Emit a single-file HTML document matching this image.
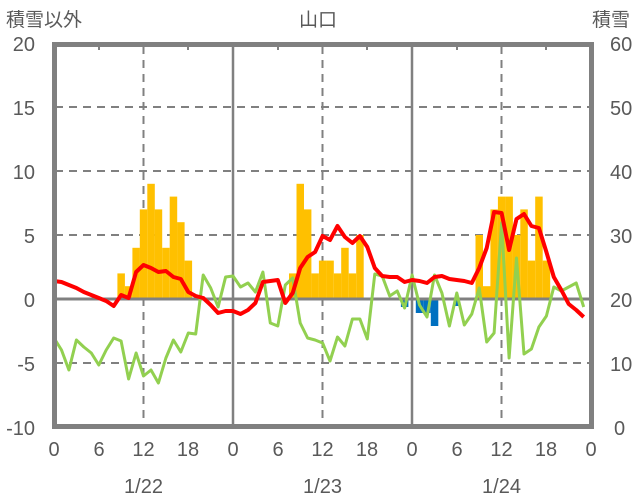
<!DOCTYPE html>
<html><head><meta charset="utf-8"><style>
html,body{margin:0;padding:0;background:#fff;}
svg{display:block;}
text{font-family:"Liberation Sans","Noto Sans CJK JP",sans-serif;fill:#595959;}
</style></head><body>
<svg width="636" height="501" viewBox="0 0 636 501" xmlns="http://www.w3.org/2000/svg">
<text x="6" y="26" font-size="19">積雪以外</text>
<text x="318" y="26" font-size="19" text-anchor="middle">山口</text>
<text x="630" y="26" font-size="19" text-anchor="end">積雪</text>
<g font-size="20" text-anchor="end">
<text x="35" y="51">20</text><text x="35" y="115">15</text><text x="35" y="179">10</text><text x="35" y="243">5</text><text x="35" y="307">0</text><text x="35" y="371">-5</text><text x="35" y="435">-10</text>
</g>
<g font-size="20" text-anchor="start">
<text x="610" y="51">60</text><text x="610" y="115">50</text><text x="610" y="179">40</text><text x="610" y="243">30</text><text x="610" y="307">20</text><text x="610" y="371">10</text><text x="614" y="435">0</text>
</g>
<g font-size="20" text-anchor="middle">
<text x="54" y="456">0</text><text x="99" y="456">6</text><text x="143.5" y="456">12</text><text x="188" y="456">18</text>
<text x="233" y="456">0</text><text x="278" y="456">6</text><text x="322.5" y="456">12</text><text x="367" y="456">18</text>
<text x="412" y="456">0</text><text x="457" y="456">6</text><text x="501.5" y="456">12</text><text x="546" y="456">18</text><text x="591" y="456">0</text>
<text x="143.5" y="493">1/22</text><text x="322.5" y="493">1/23</text><text x="501.5" y="493">1/24</text>
</g>
<g stroke="#808080" stroke-width="2" stroke-dasharray="8,6" fill="none">
<line x1="55" y1="107" x2="590" y2="107"/><line x1="55" y1="171" x2="590" y2="171"/><line x1="55" y1="235" x2="590" y2="235"/><line x1="55" y1="363" x2="590" y2="363"/>
<line x1="143.5" y1="46" x2="143.5" y2="427"/><line x1="322.5" y1="46" x2="322.5" y2="427"/><line x1="501.5" y1="46" x2="501.5" y2="427"/>
</g>
<g stroke="#808080" stroke-width="2" stroke-dasharray="4,6">
<line x1="99" y1="46" x2="99" y2="50"/><line x1="188" y1="46" x2="188" y2="50"/><line x1="278" y1="46" x2="278" y2="50"/><line x1="367" y1="46" x2="367" y2="50"/><line x1="457" y1="46" x2="457" y2="50"/><line x1="546" y1="46" x2="546" y2="50"/>
</g>
<g stroke="#808080" stroke-width="2.5">
<line x1="233" y1="46" x2="233" y2="427"/><line x1="412" y1="46" x2="412" y2="427"/>
</g>
<g fill="#ffc000">
<rect x="117.4" y="273.4" width="7.5" height="25.6"/><rect x="124.9" y="286.2" width="7.5" height="12.8"/><rect x="132.4" y="247.8" width="7.5" height="51.2"/><rect x="139.8" y="209.4" width="7.5" height="89.6"/><rect x="147.3" y="183.8" width="7.5" height="115.2"/><rect x="154.7" y="209.4" width="7.5" height="89.6"/><rect x="162.2" y="247.8" width="7.5" height="51.2"/><rect x="169.7" y="196.6" width="7.5" height="102.4"/><rect x="177.1" y="222.2" width="7.5" height="76.8"/><rect x="184.6" y="260.6" width="7.5" height="38.4"/>
<rect x="289" y="273.4" width="7.5" height="25.6"/><rect x="296.5" y="183.8" width="7.5" height="115.2"/><rect x="303.9" y="209.4" width="7.5" height="89.6"/><rect x="311.4" y="273.4" width="7.5" height="25.6"/><rect x="318.9" y="260.6" width="7.5" height="38.4"/><rect x="326.3" y="260.6" width="7.5" height="38.4"/><rect x="333.8" y="273.4" width="7.5" height="25.6"/><rect x="341.2" y="247.8" width="7.5" height="51.2"/><rect x="348.7" y="273.4" width="7.5" height="25.6"/><rect x="356.2" y="235" width="7.5" height="64"/>
<rect x="475.5" y="235" width="7.5" height="64"/><rect x="483" y="286.2" width="7.5" height="12.8"/><rect x="490.4" y="209.4" width="7.5" height="89.6"/><rect x="497.9" y="196.6" width="7.5" height="102.4"/><rect x="505.4" y="196.6" width="7.5" height="102.4"/><rect x="512.8" y="235" width="7.5" height="64"/><rect x="520.3" y="209.4" width="7.5" height="89.6"/><rect x="527.7" y="260.6" width="7.5" height="38.4"/><rect x="535.2" y="196.6" width="7.5" height="102.4"/><rect x="542.7" y="260.6" width="7.5" height="38.4"/>
</g>
<g fill="#0070c0">
<rect x="400.9" y="299" width="7.5" height="8"/><rect x="415.8" y="299" width="7.5" height="14"/><rect x="423.3" y="299" width="7.5" height="14"/><rect x="430.8" y="299" width="7.5" height="27"/><rect x="454" y="299" width="5" height="7"/>
</g>
<line x1="55" y1="299" x2="590" y2="299" stroke="#808080" stroke-width="3"/>
<line x1="55" y1="426" x2="590" y2="426" stroke="#808080" stroke-width="3"/>
<line x1="56" y1="426" x2="589" y2="426" stroke="#7030a0" stroke-width="2.5"/>
<polyline fill="none" stroke="#92d050" stroke-width="3" stroke-linejoin="round" points="54,338 61.5,350 68.9,370 76.4,340 83.8,347 91.3,353 98.8,365 106.2,350 113.7,338 121.1,341 128.6,379 136.1,353 143.5,376 151,370 158.4,383 165.9,358 173.4,340 180.8,352 188.3,333 195.7,334 203.2,275 210.7,288 218.1,307 225.6,277 233,276 240.5,287 248,283 255.4,292 262.9,272 270.3,323 277.8,326 285.3,285 292.7,278 300.2,323 307.6,338 315.1,340 322.6,343 330,361 337.5,337 344.9,346 352.4,319 359.9,319 367.3,339 374.8,274 382.2,276 389.7,296 397.2,291 404.6,308 412.1,275 419.5,305 427,317 434.5,275 441.9,293 449.4,326 456.8,293 464.3,325 471.8,314 479.2,288 486.7,342 494.1,333 501.6,223 509.1,358 516.5,258 524,354 531.4,349 538.9,327 546.4,316 553.8,287 561.3,291 568.7,287 576.2,283 583.7,307"/>
<polyline fill="none" stroke="#ff0000" stroke-width="4" stroke-linejoin="round" points="54,281 61.5,282 68.9,285 76.4,288 83.8,292 91.3,295 98.8,298 106.2,301 113.7,306 121.1,295 128.6,298 136.1,272 143.5,265 151,268 158.4,272 165.9,271 173.4,277 180.8,279 188.3,292 195.7,296 203.2,298 210.7,305 218.1,313 225.6,311 233,311 240.5,314 248,310 255.4,303 262.9,282 270.3,281 277.8,280 285.3,303 292.7,293 300.2,268 307.6,257 315.1,252 322.6,236 330,240 337.5,226 344.9,237 352.4,243 359.9,236 367.3,247 374.8,268 382.2,276 389.7,277 397.2,277 404.6,282 412.1,280 419.5,281 427,283 434.5,277 441.9,276 449.4,279 456.8,280 464.3,281 471.8,283 479.2,268 486.7,248 494.1,212 501.6,213 509.1,250 516.5,219 524,214 531.4,226 538.9,228 546.4,252 553.8,277 561.3,290 568.7,304 576.2,310 583.7,317"/>
<rect x="54.5" y="44.5" width="537" height="382" fill="none" stroke="#808080" stroke-width="5"/>
</svg>
</body></html>
